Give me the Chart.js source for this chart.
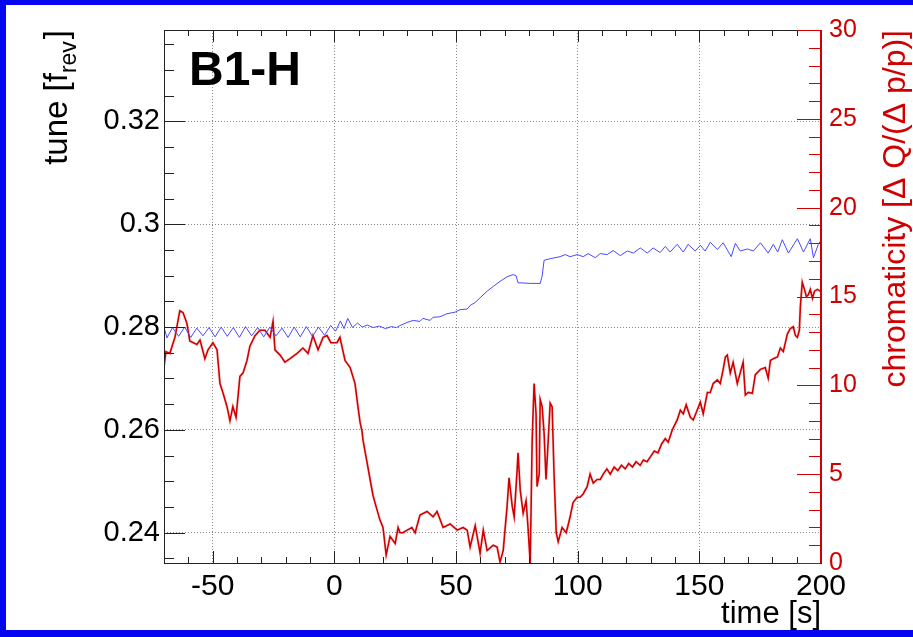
<!DOCTYPE html>
<html>
<head>
<meta charset="utf-8">
<script src="https://cdn.jsdelivr.net/npm/chart.js@4.4.1/dist/chart.umd.min.js"></script>
<style>
  html, body { margin: 0; padding: 0; background: #fff; }
</style>
</head>
<body>
<canvas id="chart" width="913" height="637"></canvas>
<script>
// tick labels
const timeTicks = [-50, 0, 50, 100, 150, 200];
const tuneTicks = [0.24, 0.26, 0.28, 0.30, 0.32];
const chromaTicks = [0, 5, 10, 15, 20, 25, 30];

// tune (left axis)
const tuneTime = [
  -70, -68.8, -66.5, -64, -61.5, -59, -56.5, -54, -51.5, -49,
  -46.5, -44, -41.5, -39, -36.5, -34, -31.5, -29, -26.5, -24,
  -21.5, -19, -16.5, -14, -11.5, -9, -6.5, -4, -1.5, 0.5,
  2.5, 4, 5.5, 7.5, 9.5, 11.5, 13.5, 16, 18.5, 21,
  23.5, 25.5, 27,
  29.9, 32.4, 35.2, 36.4, 39.3, 40.6, 43.4, 46.3, 49.6, 51.7,
  54.6, 55.8, 57.9, 59.9, 62.8, 65.3, 68.1, 71, 73.5, 74.7,
  75.5, 77.2, 80.5, 84.6, 85.4, 86.2, 88.7, 92.8, 94.9, 96.9,
  99.8, 102.3, 104.3, 107.2, 109.3,
  112.1, 114.6, 117.5, 120.4, 122.9, 125.7, 128.6, 131, 133.9, 136,
  138, 140.9, 143.4, 145.4, 148.3, 150.4, 152.4, 154.5, 157.4, 159.8,
  163.1, 164.8, 166.8, 169.7, 172.2, 175.1, 178.3, 180.4, 182.2, 184.1,
  186.6, 190.3, 192.8, 195.6, 196.9, 198.9, 200
];
const tuneValue = [
  0.2800, 0.2779, 0.2799, 0.2782, 0.2800, 0.2780, 0.2798, 0.2783, 0.2799, 0.2781,
  0.2800, 0.2782, 0.2799, 0.2780, 0.2801, 0.2783, 0.2799, 0.2781, 0.2800, 0.2783,
  0.2798, 0.2780, 0.2800, 0.2781, 0.2801, 0.2782, 0.2800, 0.2784, 0.2803, 0.2792,
  0.2812, 0.2797, 0.2817, 0.2799, 0.2808, 0.2800, 0.2804, 0.2799, 0.2802, 0.2797,
  0.2801, 0.2799, 0.2803,
  0.2809, 0.2813, 0.2811, 0.2817, 0.2813, 0.2819, 0.2820, 0.2826, 0.2829, 0.2834,
  0.2835, 0.2842, 0.2848, 0.2857, 0.2870, 0.2879, 0.2889, 0.2898, 0.2902, 0.2900,
  0.2886, 0.2886, 0.2885, 0.2885, 0.2899, 0.2930, 0.2933, 0.2937, 0.2941, 0.2937,
  0.2941, 0.2937, 0.2943, 0.2935, 0.2943,
  0.2941, 0.2949, 0.2939, 0.2948, 0.2944, 0.2954, 0.2944, 0.2954, 0.2945, 0.2957,
  0.2946, 0.2961, 0.2946, 0.2961, 0.2948, 0.2959, 0.2948, 0.2965, 0.2951, 0.2964,
  0.2937, 0.2963, 0.2948, 0.2952, 0.2948, 0.2964, 0.2944, 0.2961, 0.2946, 0.2970,
  0.2944, 0.2972, 0.2946, 0.2972, 0.2935, 0.2961, 0.2969
];

// chromaticity (right axis)
const chromaTime = [
  -70, -69.2, -67.6, -65.5, -63.5, -62.2, -60.6, -59.4, -56.5, -55.2,
  -53.2, -51.9, -49.9, -48.2, -47, -45.8, -44.1, -42.9, -41.7, -40.4,
  -38.8, -37.5, -35.9, -34.7, -32.6, -30.6, -28.5, -26.4, -25.2, -24.4,
  -22.3, -20.3, -18.2, -15.3, -12.9, -10.8, -8.8, -6.7, -4.6, -3,
  -1.4, 1.1, 2.3, 4.4, 6.5, 8.5, 9.7, 10.6, 11.4,
  11.8, 13, 14.7, 15.9, 17.1, 18.8, 20, 21.3, 22.9, 25, 26.2,
  27, 28.2, 29.9, 31.9, 33.2, 35.2, 38.1, 40.6, 42.2, 44.7,
  47.6, 50.5, 52.9, 54.6, 55.8, 57.9, 59.9, 61.2, 62.8, 65.3,
  66.9, 68.1, 69.4,
  71, 71.8, 73.1, 73.9, 75.1, 75.5, 76.4, 77.6, 78.8, 79.6,
  80.5, 81.3, 82.1, 82.9, 83.3, 84.2, 84.6, 85.4, 86.2, 87,
  87.9, 88.7, 89.5, 90.3, 91.2, 92, 93.6, 95.3, 96.9, 98.1,
  99.8, 101, 102.3, 103.9, 105.1, 106.4, 108, 109.3,
  110.5, 112, 113.4, 115, 116.5, 118, 119.5, 121, 122.5, 124,
  125.7, 127, 128.5, 130, 131.5, 133, 134.5, 136, 137.2, 138.9,
  140.9, 142.2, 143.4, 144.6, 146.3, 147.5, 149.1, 150.4, 151.6, 153.3,
  154.5, 155.7, 157.4, 158.6, 159.8, 160.7, 161.5, 162.7, 163.9, 165.6,
  166.8, 168, 168.9, 170.1, 171.8, 173, 175.1, 177.1, 178.3, 179.2,
  180.4, 182.1, 183.3, 184.5, 186.2, 187.4, 188.6, 189.5, 190.3, 191.1,
  191.5, 192.3, 193.2, 194, 194.8, 195.6, 196.5, 197.3, 198.5, 199.7
];
const chromaValue = [
  11.05, 11.9, 11.8, 12.7, 14.2, 14.1, 13.5, 12.5, 12.3, 12.55,
  11.5, 12.0, 12.4, 12.0, 10.1, 9.6, 8.8, 8.0, 8.8, 8.2,
  10.5, 10.7, 11.4, 12.2, 12.8, 13.1, 13.1, 12.7, 13.6, 12.0,
  11.7, 11.3, 11.5, 11.8, 12.1, 11.8, 12.8, 12.0, 12.7, 12.8,
  12.4, 12.4, 12.7, 11.4, 11.0, 10.1, 8.8, 7.9, 7.4,
  6.9, 6.0, 4.7, 3.8, 3.2, 2.4, 2.0, 0.45, 1.5, 1.1, 2.0,
  1.7, 1.7, 1.85, 2.0, 1.7, 2.7, 2.9, 2.6, 2.9, 2.0,
  2.2, 1.85, 2.0, 1.85, 0.9, 2.1, 0.55, 1.85, 0.7, 1.0,
  0.9, 0.05, 0.7,
  3.2, 4.8, 3.2, 2.6, 5.2, 6.2, 4.1, 2.8, 3.5, 2.0,
  0.0, 6.9, 10.1, 8.4, 4.3, 5.0, 9.2, 8.8, 7.3, 4.7,
  6.9, 9.0, 8.8, 5.0, 1.7, 1.2, 2.0, 1.7, 2.6, 3.4,
  3.7, 3.7, 3.9, 4.3, 5.0, 4.5, 4.7, 4.7,
  5.0, 5.3, 5.0, 5.4, 5.2, 5.5, 5.3, 5.6, 5.4, 5.7,
  5.5, 5.8, 5.7, 6.0, 6.3, 6.2, 6.7, 7.0, 6.8, 7.5,
  8.05, 8.6, 8.4, 8.9, 8.2, 8.05, 8.6, 9.05, 8.4, 9.6,
  9.6, 10.1, 10.3, 10.1, 10.9, 11.6, 11.7, 10.7, 11.3, 10.1,
  10.7, 11.3, 9.45, 9.6, 9.55, 10.6, 10.9, 11.0, 10.4, 11.4,
  11.5, 11.6, 12.1, 11.9, 12.9, 13.2, 13.3, 12.8, 12.7, 13.1,
  14.4, 15.8, 15.4, 15.0, 15.1, 15.4, 14.9, 15.3, 15.4, 15.3
];

const FONT = "'Liberation Sans', Arial, sans-serif";
const RED = "#d00000";
const BLUE = "#4a4aff";

const tunePoints = tuneTime.map((t, i) => ({ x: t, y: tuneValue[i] }));
const chromaPoints = chromaTime.map((t, i) => ({ x: t, y: chromaValue[i] }));

function tick(ctx, x1, y1, x2, y2) {
  ctx.beginPath();
  ctx.moveTo(x1, y1);
  ctx.lineTo(x2, y2);
  ctx.stroke();
}

// ROOT style canvas: blue pad border, frame, inner ticks, titles
const rootFrame = {
  id: "rootFrame",
  beforeDraw(chart) {
    const { ctx, width, height } = chart;
    ctx.save();
    ctx.fillStyle = "#0505f0";
    ctx.fillRect(0, 0, width, height);
    ctx.fillStyle = "#fff";
    ctx.fillRect(6, 5, width - 6, height - 12);
    ctx.restore();
  },
  afterDatasetsDraw(chart) {
    const { ctx, chartArea: a } = chart;
    const sx = chart.scales.x, sy = chart.scales.y, sy2 = chart.scales.y2;
    ctx.save();
    ctx.lineWidth = 1;
    ctx.strokeStyle = "#222";

    // time axis ticks, bottom and top
    for (let t = -70; t <= 200; t += 10) {
      const px = Math.round(sx.getPixelForValue(t)) + 0.5;
      const len = t % 50 === 0 ? 12 : 6;
      tick(ctx, px, a.bottom, px, a.bottom - len);
      tick(ctx, px, a.top, px, a.top + len);
    }
    // tune ticks, every 0.005
    for (let k = 47; k <= 67; k++) {
      const py = Math.round(sy.getPixelForValue(k * 0.005)) + 0.5;
      const len = k % 4 === 0 ? 21 : 10;
      tick(ctx, a.left, py, a.left + len, py);
    }
    // frame
    ctx.strokeRect(Math.round(a.left) + 0.5, Math.round(a.top) + 0.5,
      Math.round(a.right - a.left), Math.round(a.bottom - a.top));

    // chromaticity axis
    ctx.strokeStyle = RED;
    for (let c = 0; c <= 30; c++) {
      const py = Math.round(sy2.getPixelForValue(c)) + 0.5;
      const len = c % 5 === 0 ? 24 : 12;
      tick(ctx, a.right, py, a.right - len, py);
    }
    ctx.lineWidth = 2;
    tick(ctx, a.right, a.top, a.right, a.bottom);
    ctx.restore();

    // titles
    ctx.save();
    ctx.fillStyle = "#000";
    ctx.font = "bold 48px " + FONT;
    ctx.textBaseline = "alphabetic";
    ctx.fillText("B1-H", 189, 85);

    ctx.font = "31px " + FONT;
    ctx.textAlign = "right";
    ctx.fillText("time [s]", a.right, 623);

    // left title: tune [f_rev]
    ctx.save();
    ctx.translate(67, a.top);
    ctx.rotate(-Math.PI / 2);
    ctx.textAlign = "left";
    ctx.font = "33px " + FONT;
    const p1 = "tune [f", p3 = "]";
    const w1 = ctx.measureText(p1).width, w3 = ctx.measureText(p3).width;
    ctx.font = "23px " + FONT;
    const w2 = ctx.measureText("rev").width;
    let x0 = -(w1 + w2 + w3 + 2);
    ctx.font = "33px " + FONT;
    ctx.fillText(p1, x0, 0);
    ctx.font = "23px " + FONT;
    ctx.fillText("rev", x0 + w1, 9);
    ctx.font = "33px " + FONT;
    ctx.fillText(p3, x0 + w1 + w2 + 2, 0);
    ctx.restore();

    // right title
    ctx.save();
    ctx.translate(905, a.top);
    ctx.rotate(-Math.PI / 2);
    ctx.textAlign = "right";
    ctx.fillStyle = RED;
    ctx.font = "32px " + FONT;
    ctx.fillText("chromaticity [\u0394 Q/(\u0394 p/p)]", 0, 0);
    ctx.restore();

    ctx.restore();
  }
};

const dotted = (ctx) => ctx.tick && ctx.tick.value === 200 ? "rgba(0,0,0,0)" : "#8a8a8a";

new Chart(document.getElementById("chart"), {
  type: "line",
  data: {
    datasets: [
      {
        label: "tune",
        data: tunePoints,
        yAxisID: "y",
        borderColor: BLUE,
        borderWidth: 1,
        pointRadius: 0,
        tension: 0,
        order: 0,
      },
      {
        label: "chromaticity",
        data: chromaPoints,
        yAxisID: "y2",
        borderColor: RED,
        borderWidth: 1.6,
        pointRadius: 0,
        tension: 0,
        order: 1,
      },
      {
        label: "chromaticity error",
        data: chromaPoints,
        yAxisID: "y2",
        borderColor: "rgba(225,90,90,0.18)",
        borderWidth: 3,
        pointRadius: 0,
        tension: 0,
        order: 2,
      },
    ],
  },
  options: {
    responsive: false,
    animation: false,
    devicePixelRatio: 1,
    layout: { padding: { top: 30, left: 0, right: 0, bottom: 0 } },
    plugins: {
      legend: { display: false },
      tooltip: { enabled: false },
    },
    scales: {
      x: {
        type: "linear",
        min: -70,
        max: 200,
        afterBuildTicks: (scale) => {
          scale.ticks = timeTicks.map((v) => ({ value: v }));
        },
        afterFit: (scale) => { scale.height = 74; },
        ticks: {
          autoSkip: false,
          maxRotation: 0,
          padding: 6,
          color: "#000",
          font: { family: FONT, size: 30 },
          callback: (v) => String(v),
        },
        grid: { color: dotted, drawTicks: false, lineWidth: 1 },
        border: { display: false, dash: [1, 2] },
      },
      y: {
        position: "left",
        min: 0.2341,
        max: 0.3378,
        afterBuildTicks: (scale) => {
          scale.ticks = tuneTicks.map((v) => ({ value: v }));
        },
        afterFit: (scale) => { scale.width = 164; },
        ticks: {
          padding: 4,
          color: "#000",
          font: { family: FONT, size: 29 },
          callback: (v) => String(Number(v.toFixed(2))),
        },
        grid: { color: "#8a8a8a", drawTicks: false, lineWidth: 1 },
        border: { display: false, dash: [1, 2] },
      },
      y2: {
        position: "right",
        min: 0,
        max: 30,
        afterBuildTicks: (scale) => {
          scale.ticks = chromaTicks.map((v) => ({ value: v }));
        },
        afterFit: (scale) => { scale.width = 92; },
        ticks: {
          padding: 8,
          color: RED,
          font: { family: FONT, size: 25 },
        },
        grid: { display: false, drawTicks: false },
        border: { display: false },
      },
    },
  },
  plugins: [rootFrame],
});
</script>
</body>
</html>
